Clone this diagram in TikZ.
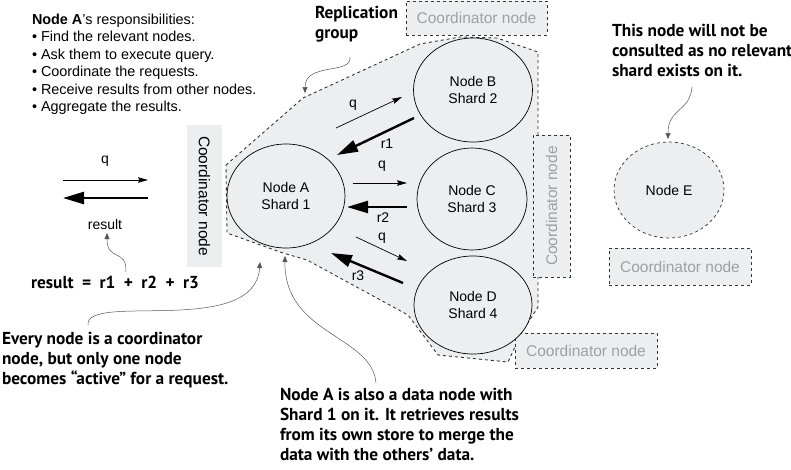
\documentclass[tikz,border=0pt]{standalone}
\usepackage{fontspec}
\setmainfont{Liberation Sans}
\newfontfamily\annfont{PT Sans}
\usetikzlibrary{arrows.meta,shapes.geometric}
\definecolor{grpfill}{HTML}{EDEEF0}
\definecolor{coordtext}{HTML}{A0A0A0}
\definecolor{dashcol}{HTML}{333333}
\definecolor{annline}{HTML}{555555}
\begin{document}
\begin{tikzpicture}[x=1pt,y=-1pt,
  every node/.style={font=\fontsize{14}{17}\selectfont, inner sep=0pt, outer sep=0pt},
  shard/.style={ellipse, draw=black, line width=0.7pt, fill=grpfill, align=center},
  coordbox/.style={draw=dashcol, dashed, line width=0.9pt, fill=grpfill, text=coordtext, font=\fontsize{15.5}{18}\selectfont},
  qarrow/.style={-{Stealth[length=10pt,width=5.5pt,inset=1.5pt]}, line width=0.7pt},
  rarrow/.style={-{Triangle[length=21pt,width=12pt]}, line width=2.4pt},
  annarrow/.style={-{Triangle[length=6pt,width=5pt]}, line width=0.5pt, draw=annline},
  anntext/.style={font=\annfont\bfseries\fontsize{17.3}{20}\selectfont, align=left, anchor=north west},
  lbl/.style={font=\fontsize{14}{15}\selectfont}
]
\useasboundingbox (0,0) rectangle (791,469);

% replication group
\draw[dashed, draw=dashcol, line width=0.9pt, fill=grpfill]
  (226,165) -- (303,98) -- (420,44) -- (460,37) -- (497,38) -- (538,52) -- (538,307)
  -- (522,332) -- (508,362) -- (438,355) -- (408,315) -- (307,260) -- (283,253)
  -- (227,233) -- cycle;

% coordinator boxes
\node[fill=grpfill, minimum width=35pt, minimum height=142pt] (cl) at (204.5,196) {};
\node[rotate=-90, font=\fontsize{15.5}{18}\selectfont] (cltext) at (cl.center) {Coordinator node};
\node[coordbox, minimum width=141pt, minimum height=34pt] (ct) at (476.5,18) {Coordinator node};
\node[coordbox, minimum width=37pt, minimum height=142pt] (cr) at (551.5,206) {};
\node[rotate=90, text=coordtext, font=\fontsize{15.5}{18}\selectfont] (crtext) at (cr.center) {Coordinator node};
\node[coordbox, minimum width=142pt, minimum height=35pt] (cb) at (586,350.5) {Coordinator node};
\node[coordbox, minimum width=142pt, minimum height=37pt] (ce) at (680,266.5) {Coordinator node};

% data nodes
\node[shard, minimum width=118pt, minimum height=104pt] (A) at (286,196) {Node A\\Shard 1};
\node[shard, minimum width=119pt, minimum height=104pt] (B) at (473,90) {Node B\\Shard 2};
\node[shard, minimum width=110pt, minimum height=102pt] (C) at (472,199) {Node C\\Shard 3};
\node[shard, minimum width=118pt, minimum height=98pt] (D) at (473,305) {Node D\\Shard 4};
\node[shard, dashed, draw=dashcol, minimum width=110pt, minimum height=96pt] (E) at (669,190) {Node E};

% request / response arrows
\coordinate (q1s) at (336,128); \coordinate (q1e) at (402,97);
\coordinate (r1s) at (414,118); \coordinate (r1e) at (337,155);
\coordinate (q2s) at (353,183); \coordinate (q2e) at (407,183);
\coordinate (r2s) at (407,207); \coordinate (r2e) at (347,207);
\coordinate (q3s) at (356,237); \coordinate (q3e) at (407,261);
\coordinate (r3s) at (403,283); \coordinate (r3e) at (331,253);
\coordinate (q0s) at (63,180);  \coordinate (q0e) at (148,180);
\coordinate (r0s) at (148,198); \coordinate (r0e) at (63,198);
\draw[qarrow] (q1s) -- (q1e);
\draw[rarrow] (r1s) -- (r1e);
\draw[qarrow] (q2s) -- (q2e);
\draw[rarrow] (r2s) -- (r2e);
\draw[qarrow] (q3s) -- (q3e);
\draw[rarrow] (r3s) -- (r3e);
\draw[qarrow] (q0s) -- (q0e);
\draw[rarrow] (r0s) -- (r0e);

\node[lbl] (lq1) at (353,105) {q};
\node[lbl] (lr1) at (387,144) {r1};
\node[lbl] (lq2) at (382,166) {q};
\node[lbl] (lr2) at (383,218) {r2};
\node[lbl] (lq3) at (382,238) {q};
\node[lbl] (lr3) at (358,276) {r3};
\node[lbl] (lq0) at (105,161) {q};
\node[lbl] (lres) at (105,224) {result};

% annotations
\node[anchor=north west, align=left, font=\fontsize{14.4}{17.4}\selectfont] (resp) at (32,14)
  {\textbf{Node A}’s responsibilities:\\
   • Find the relevant nodes.\\
   • Ask them to execute query.\\
   • Coordinate the requests.\\
   • Receive results from other nodes.\\
   • Aggregate the results.};

\node[anntext] (repl) at (315,6) {Replication\\group};
\node[anntext] (enote) at (612,24) {This node will not be\\consulted as no relevant\\shard exists on it.};
\node[anntext, anchor=center] (sum) at (115,282) {result\hspace{4pt} =\hspace{4pt} r1\hspace{4pt} +\hspace{4pt} r2\hspace{4pt} +\hspace{4pt} r3};
\node[anntext] (every) at (2,332) {Every node is a coordinator\\node, but only one node\\becomes “active” for a request.};
\node[anntext] (anote) at (280,388) {Node A is also a data node with\\Shard 1 on it. It retrieves results\\from its own store to merge the\\data with the others’ data.};

\coordinate (replS) at (350,57);   \coordinate (replE) at (305,93);
\coordinate (eS) at (692,87);      \coordinate (eE) at (668,139);
\coordinate (sumS) at (126,272);   \coordinate (sumE) at (107,233);
\coordinate (evS) at (88,325);     \coordinate (evE) at (260,262);
\coordinate (anS) at (376,383);    \coordinate (anE) at (285,256);
\draw[annarrow] (replS) .. controls (352,75) and (305,62) .. (replE);
\draw[annarrow] (eS) .. controls (690,112) and (668,108) .. (eE);
\draw[annarrow] (sumS) .. controls (127,248) and (107,262) .. (sumE);
\draw[annarrow] (evS) .. controls (85,292) and (255,338) .. (evE);
\draw[annarrow] (anS) .. controls (372,335) and (284,335) .. (anE);
\end{tikzpicture}
\end{document}
